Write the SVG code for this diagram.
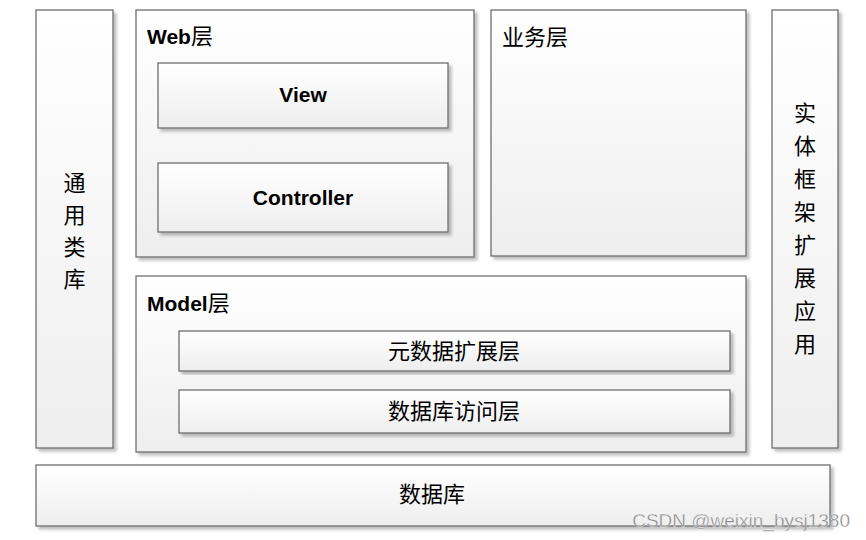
<svg xmlns="http://www.w3.org/2000/svg" width="866" height="540" viewBox="0 0 866 540">
<defs>
<linearGradient id="g" x1="0" y1="0" x2="0" y2="1">
<stop offset="0" stop-color="#ffffff"/>
<stop offset="1" stop-color="#eeeeee"/>
</linearGradient>
<filter id="sh" x="-5%" y="-5%" width="115%" height="115%">
<feGaussianBlur in="SourceAlpha" stdDeviation="1.5"/>
<feOffset dx="3" dy="3" result="b"/>
<feComponentTransfer><feFuncA type="linear" slope="0.25"/></feComponentTransfer>
<feMerge><feMergeNode/><feMergeNode in="SourceGraphic"/></feMerge>
</filter>
</defs>
<style>
.box{fill:url(#g);stroke:#6e6e6e;stroke-width:1.3;filter:url(#sh)}
.en{font-family:"Liberation Sans","Noto Sans CJK SC",sans-serif;font-weight:bold;font-size:21px;fill:#000}
.zh{font-family:"Noto Sans CJK SC",sans-serif;font-size:22px;fill:#000}
.c{text-anchor:middle}
</style>
<rect width="866" height="540" fill="#fff"/>
<g id="common">
<rect class="box" x="36" y="10" width="77" height="438"/>
<text class="zh c" x="74.5" y="191">通</text>
<text class="zh c" x="74.5" y="223">用</text>
<text class="zh c" x="74.5" y="255">类</text>
<text class="zh c" x="74.5" y="287">库</text>
</g>
<g id="web">
<rect class="box" x="136" y="10" width="338" height="247"/>
<text class="en" x="147" y="44">Web<tspan class="zh" font-weight="normal">层</tspan></text>
</g>
<g id="view">
<rect class="box" x="158" y="63" width="290" height="65"/>
<text class="en c" x="303" y="102">View</text>
</g>
<g id="controller">
<rect class="box" x="158" y="163" width="290" height="69"/>
<text class="en c" x="303" y="205">Controller</text>
</g>
<g id="business">
<rect class="box" x="491" y="10" width="255" height="246"/>
<text class="zh" x="502" y="45">业务层</text>
</g>
<g id="model">
<rect class="box" x="136" y="276" width="610" height="176"/>
<text class="en" x="147" y="311">Model<tspan class="zh" font-weight="normal">层</tspan></text>
</g>
<g id="meta">
<rect class="box" x="179" y="331" width="551" height="40"/>
<text class="zh c" x="454" y="359">元数据扩展层</text>
</g>
<g id="dbaccess">
<rect class="box" x="179" y="390" width="551" height="43"/>
<text class="zh c" x="454" y="419">数据库访问层</text>
</g>
<g id="entity">
<rect class="box" x="772" y="10" width="66" height="438"/>
<text class="zh c" x="805" y="121">实</text>
<text class="zh c" x="805" y="154">体</text>
<text class="zh c" x="805" y="187">框</text>
<text class="zh c" x="805" y="220">架</text>
<text class="zh c" x="805" y="253">扩</text>
<text class="zh c" x="805" y="286">展</text>
<text class="zh c" x="805" y="319">应</text>
<text class="zh c" x="805" y="352">用</text>
</g>
<g id="database">
<rect class="box" x="36" y="465" width="794" height="61"/>
<text class="zh c" x="432" y="502">数据库</text>
</g>
<g id="connectors"></g>
<text x="850" y="527" text-anchor="end" font-family="Liberation Sans,sans-serif" font-size="19" fill="#8a8a8a" stroke="#fff" stroke-width="0.3">CSDN @weixin_bysj1380</text>
</svg>
